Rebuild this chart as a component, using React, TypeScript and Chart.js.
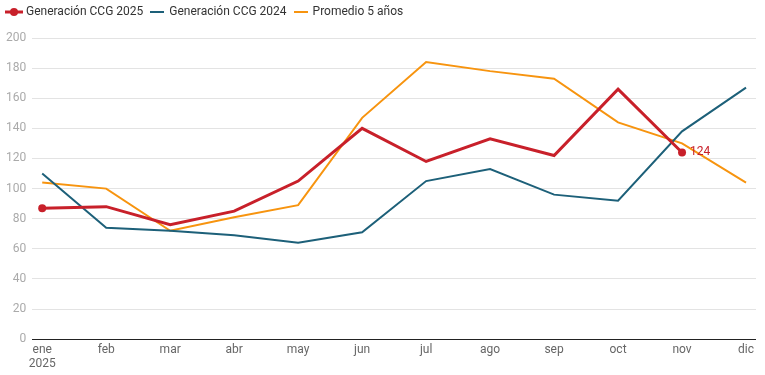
import React, { useEffect, useRef } from "react";
import { Chart, registerables } from "chart.js";

Chart.register(...registerables);

const months = ["ene", "feb", "mar", "abr", "may", "jun", "jul", "ago", "sep", "oct", "nov", "dic"];
const yearLabel = "2025";
const gen2025 = [87, 88, 76, 85, 105, 140, 118, 133, 122, 166, 124, null];
const gen2024 = [110, 74, 72, 69, 64, 71, 105, 113, 96, 92, 138, 167];
const promedio5 = [104, 100, 72, 81, 89, 147, 184, 178, 173, 144, 130, 104];
const yTicksMax = 200;
const yStep = 20;

const RED = "#c8202a";
const TEAL = "#1d6079";
const ORANGE = "#f7940f";

function makeLegendIcon(color: string, withDot: boolean, lineW: number, w: number) {
  const c = document.createElement("canvas");
  c.width = w;
  c.height = 12;
  const ctx = c.getContext("2d")!;
  ctx.strokeStyle = color;
  ctx.lineWidth = lineW;
  ctx.beginPath();
  ctx.moveTo(0, 6);
  ctx.lineTo(w, 6);
  ctx.stroke();
  if (withDot) {
    ctx.fillStyle = color;
    ctx.beginPath();
    ctx.arc(w / 2, 6, 4, 0, Math.PI * 2);
    ctx.fill();
  }
  return c;
}

const lastLabelPlugin = {
  id: "lastLabel",
  afterDatasetsDraw(chart: any) {
    const meta = chart.getDatasetMeta(0);
    const data = gen2025;
    let idx = -1;
    for (let i = data.length - 1; i >= 0; i--) {
      if (data[i] != null) { idx = i; break; }
    }
    if (idx < 0) return;
    const pt = meta.data[idx];
    const ctx = chart.ctx;
    ctx.save();
    ctx.font = "12px Roboto, sans-serif";
    ctx.fillStyle = RED;
    ctx.textAlign = "left";
    ctx.textBaseline = "middle";
    ctx.fillText(String(data[idx]), pt.x + 8, pt.y);
    ctx.restore();
  },
};

const legendSpacing = {
  id: "legendSpacing",
  beforeInit(chart: any) {
    const orig = chart.legend.fit;
    chart.legend.fit = function () {
      orig.call(this);
      this.height += 10;
    };
  },
};

export default function App() {
  const ref = useRef<HTMLCanvasElement>(null);
  useEffect(() => {
    const n2025 = gen2025.filter((v) => v != null).length;
    const radii = gen2025.map((v, i) => (i === 0 || i === n2025 - 1 ? 4 : 0));
    const icons = [
      makeLegendIcon(RED, true, 3, 18),
      makeLegendIcon(TEAL, false, 2, 14),
      makeLegendIcon(ORANGE, false, 2, 14),
    ];
    const toXY = (arr: (number | null)[]) => arr.map((v, i) => ({ x: i, y: v }));
    const chart = new Chart(ref.current!, {
      type: "line",
      data: {
        datasets: [
          {
            label: "Generación CCG 2025",
            data: toXY(gen2025) as any,
            borderColor: RED,
            backgroundColor: RED,
            borderWidth: 3,
            pointRadius: radii,
            pointHoverRadius: radii,
            pointBackgroundColor: RED,
            pointBorderWidth: 0,
            tension: 0,
          },
          {
            label: "Generación CCG 2024",
            data: toXY(gen2024) as any,
            borderColor: TEAL,
            backgroundColor: TEAL,
            borderWidth: 2,
            pointRadius: 0,
            tension: 0,
          },
          {
            label: "Promedio 5 años",
            data: toXY(promedio5) as any,
            borderColor: ORANGE,
            backgroundColor: ORANGE,
            borderWidth: 2,
            pointRadius: 0,
            tension: 0,
          },
        ],
      },
      options: {
        animation: false,
        responsive: false,
        maintainAspectRatio: false,
        layout: { padding: { left: 0, right: 9, top: -2, bottom: 0 } },
        plugins: {
          legend: {
            align: "start",
            labels: {
              usePointStyle: true,
              font: { family: "Roboto, sans-serif", size: 12 },
              color: "#333",
              padding: 8,
              boxHeight: 12,
              boxWidth: 16,
              generateLabels: (ch: any) => {
                const items = Chart.defaults.plugins.legend.labels.generateLabels(ch);
                items.forEach((it: any, i: number) => {
                  it.pointStyle = icons[i];
                });
                return items;
              },
            },
          },
          tooltip: { enabled: false },
        },
        scales: {
          x: {
            type: "linear",
            min: -0.156,
            max: months.length - 1 + 0.156,
            grid: { display: false, drawTicks: false },
            border: { display: false },
            afterBuildTicks: (scale: any) => {
              scale.ticks = months.map((_, i) => ({ value: i }));
            },
            ticks: {
              color: "#666",
              font: { family: "Roboto, sans-serif", size: 12 },
              maxRotation: 0,
              autoSkip: false,
              padding: 3.5,
              callback: (v: any) => {
                const i = Math.round(Number(v));
                return i === 0 ? [months[i], yearLabel] : months[i];
              },
            },
          },
          y: {
            min: 0,
            max: yTicksMax,
            border: { display: false },
            grid: {
              color: (c: any) => (c.tick && c.tick.value === 0 ? "#222" : "#e3e3e3"),
              lineWidth: 1,
              drawTicks: false,
            },
            ticks: {
              stepSize: yStep,
              color: "#aaa",
              font: { family: "Roboto, sans-serif", size: 12 },
              padding: 6,
            },
          },
        },
      },
      plugins: [lastLabelPlugin, legendSpacing],
    });
    return () => chart.destroy();
  }, []);
  return (
    <div style={{ position: "absolute", left: 0, top: 0, width: 765, height: 375, background: "#fff" }}>
      <canvas ref={ref} width={765} height={375} style={{ width: 765, height: 375 }} />
    </div>
  );
}
